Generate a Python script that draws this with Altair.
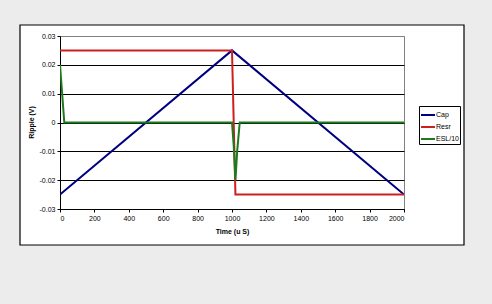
import altair as alt
import pandas as pd

# ---- data ----
cap_x = [0, 1000, 2000]
cap_y = [-0.025, 0.025, -0.025]

resr_x = [0, 1000, 1020, 2000]
resr_y = [0.025, 0.025, -0.025, -0.025]

esl_x = [0, 5, 25, 1000, 1010, 1020, 1030, 1045, 2000]
esl_y = [0.02, 0.016, 0.0, 0.0, -0.008, -0.02, -0.01, 0.0, 0.0]

series_names = ["Cap", "Resr", "ESL/10"]
series_colors = ["#000080", "#cc2020", "#1e7a1e"]

x_ticks = [0, 200, 400, 600, 800, 1000, 1200, 1400, 1600, 1800, 2000]
y_ticks = [-0.03, -0.02, -0.01, 0, 0.01, 0.02, 0.03]

rows = []
for name, xs, ys in [("Cap", cap_x, cap_y), ("Resr", resr_x, resr_y), ("ESL/10", esl_x, esl_y)]:
    for i, (a, b) in enumerate(zip(xs, ys)):
        rows.append({"series": name, "t": a, "v": b, "order": i})
df = pd.DataFrame(rows)

FONT = "Liberation Sans"
GRAY = "#ECECEC"

lines = alt.Chart(df).mark_line(strokeWidth=2, clip=True).encode(
    x=alt.X("t:Q",
            scale=alt.Scale(domain=[0, 2000], nice=False),
            axis=alt.Axis(values=x_ticks, title="Time (u S)", grid=False,
                          labelExpr="'' + datum.value",
                          labelFont=FONT, labelFontSize=7, labelColor="black",
                          labelPadding=2, tickSize=3, tickColor="black",
                          domainColor="black", titleFont=FONT, titleFontSize=7,
                          titleFontWeight="bold", titleColor="black",
                          titleBaseline="middle", titleY=22)),
    y=alt.Y("v:Q",
            scale=alt.Scale(domain=[-0.03, 0.03], nice=False),
            axis=alt.Axis(values=y_ticks, title="Ripple (V)", grid=True,
                          gridColor={"condition": {"test": "datum.value > 0.029", "value": "#808080"},
                                     "value": "black"},
                          labelExpr="'' + datum.value",
                          labelFont=FONT, labelFontSize=7, labelColor="black",
                          labelPadding=2, tickSize=3, tickColor="black",
                          domainColor="black", titleFont=FONT, titleFontSize=7,
                          titleFontWeight="bold", titleColor="black",
                          titleBaseline="middle", titleX=-29, titleY=86)),
    color=alt.Color("series:N",
                    scale=alt.Scale(domain=series_names, range=series_colors),
                    legend=alt.Legend(title=None, orient="none", legendX=359, legendY=70,
                                      symbolType="stroke", symbolStrokeWidth=2,
                                      symbolSize=196, labelFont=FONT, labelFontSize=7,
                                      labelColor="black", labelOffset=0, rowPadding=-4,
                                      strokeColor="black", padding=1)),
    order="order:Q",
    detail="series:N",
)

one = alt.Data(values=[{}])

def grect(x1, x2, y1, y2):
    return alt.Chart(one).mark_rect(color=GRAY).encode(
        x=alt.value(x1), x2=alt.value(x2), y=alt.value(y1), y2=alt.value(y2))

frame = alt.Chart(one).mark_rect(fill=None, stroke="black", strokeWidth=1.2).encode(
    x=alt.value(-40), x2=alt.value(404), y=alt.value(-11), y2=alt.value(209))

chart = alt.layer(
    grect(-60, -40, -36, 268),
    grect(-60, 432, -36, -11),
    grect(404, 432, -36, 268),
    grect(-60, 432, 209, 268),
    frame,
    lines,
).properties(
    width=344, height=173,
    autosize=alt.AutoSizeParams(type="none"),
    padding={"left": 60, "top": 36, "right": 88, "bottom": 95},
    background="white",
).configure_view(stroke="#808080", strokeWidth=1)

chart.save("out.html", embed_options={"renderer": "svg", "actions": False})
